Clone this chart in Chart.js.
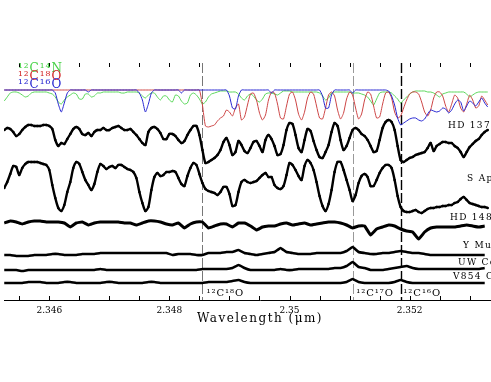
<!DOCTYPE html>
<html>
<head>
<meta charset="utf-8">
<script src="https://cdn.jsdelivr.net/npm/chart.js@4.4.1/dist/chart.umd.min.js"></script>
<style>
html, body { margin: 0; padding: 0; overflow: hidden; background: #fff; }
#wrap { width: 520px; height: 382px; }
</style>
</head>
<body>
<div id="wrap"><canvas id="spectra" width="520" height="382"></canvas></div>
<script>
// wavelength grid (micron)
const waveFine = [
  2.34525, 2.34530, 2.34535, 2.34540, 2.34545, 2.34550, 2.34555, 2.34560, 2.34565, 2.34570,
  2.34575, 2.34580, 2.34585, 2.34590, 2.34595, 2.34600, 2.34605, 2.34610, 2.34615, 2.34620,
  2.34625, 2.34630, 2.34635, 2.34640, 2.34645, 2.34650, 2.34655, 2.34660, 2.34665, 2.34670,
  2.34675, 2.34680, 2.34685, 2.34690, 2.34695, 2.34700, 2.34705, 2.34710, 2.34715, 2.34720,
  2.34725, 2.34730, 2.34735, 2.34740, 2.34745, 2.34750, 2.34755, 2.34760, 2.34765, 2.34770,
  2.34775, 2.34780, 2.34785, 2.34790, 2.34795, 2.34800, 2.34805, 2.34810, 2.34815, 2.34820,
  2.34825, 2.34830, 2.34835, 2.34840, 2.34845, 2.34850, 2.34855, 2.34860, 2.34865, 2.34870,
  2.34875, 2.34880, 2.34885, 2.34890, 2.34895, 2.34900, 2.34905, 2.34910, 2.34915, 2.34920,
  2.34925, 2.34930, 2.34935, 2.34940, 2.34945, 2.34950, 2.34955, 2.34960, 2.34965, 2.34970,
  2.34975, 2.34980, 2.34985, 2.34990, 2.34995, 2.35000, 2.35005, 2.35010, 2.35015, 2.35020,
  2.35025, 2.35030, 2.35035, 2.35040, 2.35045, 2.35050, 2.35055, 2.35060, 2.35065, 2.35070,
  2.35075, 2.35080, 2.35085, 2.35090, 2.35095, 2.35100, 2.35105, 2.35110, 2.35115, 2.35120,
  2.35125, 2.35130, 2.35135, 2.35140, 2.35145, 2.35150, 2.35155, 2.35160, 2.35165, 2.35170,
  2.35175, 2.35180, 2.35185, 2.35190, 2.35195, 2.35200, 2.35205, 2.35210, 2.35215, 2.35220,
  2.35225, 2.35230, 2.35235, 2.35240, 2.35245, 2.35250, 2.35255, 2.35260, 2.35265, 2.35270,
  2.35275, 2.35280, 2.35285, 2.35290, 2.35295, 2.35300, 2.35305, 2.35310, 2.35315, 2.35320,
  2.35325, 2.35330
];
const waveCoarse = waveFine.filter((w, i) => i % 2 === 0);

// synthetic spectra (normalised flux + offset)
const synCO16 = [
  2.10, 2.10, 2.10, 2.10, 2.10, 2.10, 2.10, 2.10, 2.10, 2.10,
  2.10, 2.10, 2.10, 2.10, 2.10, 2.10, 2.10, 2.07, 1.96, 1.88,
  1.97, 2.07, 2.10, 2.10, 2.10, 2.10, 2.10, 2.10, 2.08, 2.10,
  2.10, 2.10, 2.10, 2.10, 2.10, 2.10, 2.10, 2.10, 2.10, 2.10,
  2.10, 2.10, 2.10, 2.10, 2.10, 2.07, 2.00, 1.88, 1.96, 2.07,
  2.10, 2.10, 2.10, 2.10, 2.10, 2.10, 2.10, 2.10, 2.10, 2.07,
  2.10, 2.10, 2.10, 2.10, 2.10, 2.10, 2.10, 2.10, 2.10, 2.10,
  2.10, 2.10, 2.10, 2.10, 2.10, 2.04, 1.92, 1.91, 2.04, 2.10,
  2.10, 2.10, 2.10, 2.10, 2.10, 2.10, 2.10, 2.10, 2.10, 2.07,
  2.10, 2.10, 2.10, 2.10, 2.10, 2.10, 2.10, 2.10, 2.10, 2.10,
  2.10, 2.10, 2.10, 2.10, 2.10, 2.10, 2.04, 1.92, 1.92, 2.05,
  2.10, 2.10, 2.10, 2.10, 2.10, 2.10, 2.07, 2.10, 2.10, 2.10,
  2.10, 2.10, 2.10, 2.10, 2.10, 2.10, 2.10, 2.10, 2.09, 2.04,
  1.95, 1.82, 1.75, 1.77, 1.79, 1.81, 1.82, 1.82, 1.80, 1.79,
  1.81, 1.86, 1.90, 1.89, 1.88, 1.89, 1.92, 1.91, 1.87, 1.90,
  1.96, 2.00, 1.98, 1.89, 1.94, 1.99, 1.97, 1.94, 1.98, 2.02,
  1.97, 1.93
];
const synCO18 = [
  2.10, 2.10, 2.10, 2.10, 2.10, 2.10, 2.10, 2.10, 2.10, 2.10,
  2.10, 2.10, 2.10, 2.10, 2.10, 2.10, 2.10, 2.10, 2.10, 2.10,
  2.10, 2.10, 2.10, 2.10, 2.10, 2.10, 2.10, 2.10, 2.10, 2.10,
  2.10, 2.10, 2.10, 2.10, 2.10, 2.10, 2.10, 2.10, 2.10, 2.10,
  2.10, 2.10, 2.10, 2.10, 2.10, 2.10, 2.10, 2.10, 2.10, 2.10,
  2.10, 2.10, 2.10, 2.10, 2.10, 2.10, 2.10, 2.10, 2.10, 2.10,
  2.10, 2.10, 2.10, 2.10, 2.10, 2.10, 1.95, 1.74, 1.73, 1.74,
  1.75, 1.79, 1.82, 1.84, 1.90, 1.88, 1.84, 1.92, 1.96, 1.80,
  1.83, 1.95, 2.06, 2.07, 2.00, 1.87, 1.80, 1.85, 2.00, 2.08,
  2.07, 1.96, 1.82, 1.81, 1.94, 2.06, 2.08, 2.00, 1.86, 1.80,
  1.88, 2.02, 2.08, 2.06, 1.94, 1.82, 1.81, 1.92, 2.05, 2.08,
  2.04, 1.90, 1.81, 1.87, 2.01, 2.08, 2.05, 1.92, 1.81, 1.86,
  2.00, 2.08, 2.06, 1.94, 1.82, 1.83, 1.96, 2.07, 2.08, 2.02,
  1.88, 1.82, 1.84, 1.92, 2.00, 2.06, 2.08, 2.08, 2.06, 1.98,
  1.88, 1.84, 1.90, 2.02, 2.08, 2.08, 2.04, 1.94, 1.88, 1.96,
  2.05, 2.02, 1.92, 1.88, 1.96, 2.05, 2.00, 1.92, 1.94, 2.04,
  2.00, 1.95
];
const synCN = [
  1.99, 2.03, 2.07, 2.08, 2.08, 2.07, 2.05, 2.03, 2.04, 2.07,
  2.08, 2.08, 2.08, 2.08, 2.08, 2.07, 2.06, 2.03, 1.98, 1.96,
  2.00, 2.03, 2.05, 2.07, 2.06, 2.01, 2.01, 2.06, 2.06, 2.03,
  2.04, 2.07, 2.07, 2.08, 2.08, 2.08, 2.08, 2.08, 2.08, 2.07,
  2.07, 2.08, 2.08, 2.08, 2.08, 2.07, 2.04, 2.02, 2.05, 2.07,
  2.07, 2.03, 2.00, 2.04, 2.04, 2.00, 1.98, 2.05, 2.04, 1.99,
  1.96, 1.97, 2.05, 2.07, 2.05, 2.01, 1.96, 1.98, 2.03, 2.06,
  2.07, 2.08, 2.09, 2.09, 2.09, 2.08, 2.08, 2.08, 2.06, 2.02,
  2.00, 2.04, 2.06, 2.04, 2.00, 1.98, 2.01, 2.06, 2.07, 2.07,
  2.06, 2.05, 2.07, 2.09, 2.09, 2.09, 2.08, 2.08, 2.08, 2.08,
  2.08, 2.08, 2.08, 2.08, 2.08, 2.07, 2.04, 2.00, 2.02, 2.07,
  2.08, 2.08, 2.08, 2.08, 2.08, 2.08, 2.07, 2.07, 2.07, 2.06,
  2.05, 2.03, 1.99, 1.95, 2.01, 2.07, 2.08, 2.08, 2.08, 2.07,
  2.04, 2.01, 1.97, 2.00, 2.03, 2.06, 2.08, 2.09, 2.09, 2.09,
  2.09, 2.08, 2.08, 2.07, 2.05, 2.03, 2.06, 2.07, 2.08, 2.08,
  2.08, 2.08, 2.08, 2.08, 2.06, 2.03, 2.05, 2.07, 2.08, 2.08,
  2.08, 2.08
];

// observed spectra (normalised flux + offset)
const hd137613 = [
  1.70, 1.72, 1.71, 1.68, 1.64, 1.66, 1.70, 1.73, 1.75, 1.75,
  1.74, 1.74, 1.74, 1.75, 1.75, 1.74, 1.71, 1.60, 1.54, 1.57,
  1.56, 1.61, 1.66, 1.71, 1.73, 1.71, 1.66, 1.65, 1.67, 1.64,
  1.68, 1.70, 1.70, 1.72, 1.70, 1.70, 1.72, 1.73, 1.74, 1.72,
  1.70, 1.70, 1.71, 1.68, 1.65, 1.61, 1.57, 1.55, 1.68, 1.72,
  1.73, 1.71, 1.67, 1.61, 1.61, 1.66, 1.66, 1.64, 1.60, 1.57,
  1.59, 1.65, 1.70, 1.74, 1.74, 1.65, 1.50, 1.37, 1.38, 1.40,
  1.42, 1.45, 1.50, 1.58, 1.62, 1.55, 1.45, 1.48, 1.59, 1.55,
  1.49, 1.47, 1.52, 1.58, 1.59, 1.54, 1.48, 1.60, 1.65, 1.61,
  1.54, 1.45, 1.46, 1.55, 1.70, 1.77, 1.76, 1.65, 1.52, 1.48,
  1.60, 1.71, 1.69, 1.59, 1.50, 1.43, 1.42, 1.48, 1.55, 1.68,
  1.77, 1.74, 1.60, 1.50, 1.54, 1.62, 1.70, 1.72, 1.70, 1.66,
  1.64, 1.60, 1.54, 1.48, 1.49, 1.60, 1.72, 1.78, 1.80, 1.78,
  1.70, 1.54, 1.40, 1.38, 1.40, 1.42, 1.43, 1.45, 1.46, 1.47,
  1.48, 1.52, 1.57, 1.49, 1.54, 1.56, 1.58, 1.58, 1.57, 1.57,
  1.54, 1.52, 1.48, 1.43, 1.48, 1.53, 1.56, 1.59, 1.61, 1.65,
  1.68, 1.70
];
const sAps = [
  1.12, 1.18, 1.26, 1.34, 1.33, 1.25, 1.32, 1.36, 1.38, 1.38,
  1.38, 1.38, 1.37, 1.36, 1.35, 1.30, 1.15, 1.02, 0.92, 0.89,
  0.95, 1.08, 1.18, 1.32, 1.38, 1.36, 1.28, 1.20, 1.15, 1.10,
  1.16, 1.28, 1.36, 1.34, 1.31, 1.33, 1.34, 1.32, 1.35, 1.35,
  1.33, 1.31, 1.30, 1.28, 1.22, 1.08, 0.97, 0.89, 0.93, 1.10,
  1.23, 1.27, 1.24, 1.25, 1.28, 1.28, 1.29, 1.28, 1.22, 1.16,
  1.14, 1.24, 1.32, 1.37, 1.35, 1.26, 1.17, 1.11, 1.09, 1.08,
  1.07, 1.05, 1.08, 1.13, 1.13, 1.06, 0.94, 0.95, 1.08, 1.18,
  1.20, 1.18, 1.17, 1.18, 1.19, 1.22, 1.25, 1.27, 1.23, 1.23,
  1.15, 1.12, 1.11, 1.14, 1.25, 1.37, 1.35, 1.30, 1.24, 1.20,
  1.34, 1.40, 1.37, 1.30, 1.18, 1.04, 0.94, 0.89, 0.96, 1.10,
  1.28, 1.38, 1.38, 1.30, 1.20, 1.10, 0.99, 1.05, 1.17, 1.24,
  1.26, 1.23, 1.14, 1.14, 1.20, 1.27, 1.32, 1.35, 1.35, 1.32,
  1.20, 1.04, 0.93, 0.89, 0.88, 0.88, 0.89, 0.90, 0.88, 0.87,
  0.89, 0.91, 0.92, 0.92, 0.93, 0.93, 0.94, 0.94, 0.95, 0.95,
  0.97, 0.98, 1.01, 1.03, 1.00, 0.97, 0.96, 0.95, 0.94, 0.93,
  0.93, 0.92
];
const hd148839 = [
  0.77, 0.79, 0.78, 0.76, 0.78, 0.79, 0.79, 0.78, 0.78, 0.78,
  0.77, 0.73, 0.77, 0.78, 0.75, 0.77, 0.78, 0.78, 0.78, 0.78,
  0.77, 0.77, 0.75, 0.77, 0.79, 0.79, 0.78, 0.76, 0.75, 0.77,
  0.72, 0.76, 0.78, 0.78, 0.72, 0.74, 0.76, 0.76, 0.73, 0.77,
  0.77, 0.74, 0.70, 0.73, 0.74, 0.74, 0.76, 0.77, 0.75, 0.76,
  0.77, 0.75, 0.76, 0.77, 0.78, 0.78, 0.77, 0.75, 0.72, 0.74,
  0.74, 0.65, 0.71, 0.73, 0.75, 0.74, 0.71, 0.69, 0.68, 0.61,
  0.68, 0.72, 0.73, 0.73, 0.73, 0.73, 0.74, 0.75, 0.74, 0.73,
  0.74
];
const yMus = [
  0.45, 0.45, 0.44, 0.44, 0.44, 0.45, 0.45, 0.45, 0.46, 0.46,
  0.45, 0.45, 0.45, 0.46, 0.46, 0.46, 0.47, 0.47, 0.47, 0.47,
  0.47, 0.47, 0.47, 0.47, 0.47, 0.47, 0.47, 0.47, 0.45, 0.46,
  0.46, 0.46, 0.45, 0.45, 0.47, 0.47, 0.47, 0.48, 0.48, 0.50,
  0.47, 0.46, 0.45, 0.46, 0.47, 0.48, 0.52, 0.48, 0.47, 0.46,
  0.46, 0.46, 0.47, 0.47, 0.47, 0.47, 0.47, 0.49, 0.53, 0.48,
  0.47, 0.46, 0.46, 0.47, 0.47, 0.48, 0.49, 0.48, 0.47, 0.47,
  0.46, 0.45, 0.45, 0.45, 0.45, 0.45, 0.45, 0.45, 0.45, 0.45,
  0.45
];
const uwCen = [
  0.30, 0.30, 0.30, 0.29, 0.30, 0.30, 0.30, 0.30, 0.30, 0.30,
  0.30, 0.30, 0.30, 0.30, 0.30, 0.30, 0.31, 0.30, 0.30, 0.30,
  0.30, 0.30, 0.30, 0.30, 0.30, 0.30, 0.30, 0.30, 0.30, 0.30,
  0.30, 0.30, 0.30, 0.31, 0.31, 0.31, 0.31, 0.31, 0.32, 0.35,
  0.32, 0.30, 0.30, 0.30, 0.30, 0.30, 0.31, 0.30, 0.30, 0.31,
  0.31, 0.31, 0.31, 0.31, 0.31, 0.32, 0.32, 0.34, 0.38, 0.33,
  0.32, 0.30, 0.30, 0.30, 0.31, 0.32, 0.33, 0.34, 0.32, 0.31,
  0.31, 0.31, 0.31, 0.31, 0.31, 0.31, 0.31, 0.31, 0.31, 0.31,
  0.32
];
const v854Cen = [
  0.17, 0.17, 0.17, 0.17, 0.18, 0.18, 0.18, 0.17, 0.17, 0.17,
  0.18, 0.18, 0.17, 0.17, 0.17, 0.17, 0.17, 0.18, 0.18, 0.17,
  0.17, 0.17, 0.17, 0.17, 0.18, 0.18, 0.17, 0.17, 0.17, 0.17,
  0.17, 0.17, 0.17, 0.17, 0.18, 0.18, 0.18, 0.18, 0.19, 0.20,
  0.18, 0.17, 0.17, 0.17, 0.17, 0.17, 0.17, 0.17, 0.17, 0.17,
  0.17, 0.17, 0.17, 0.17, 0.17, 0.17, 0.17, 0.18, 0.21, 0.18,
  0.17, 0.17, 0.17, 0.17, 0.17, 0.18, 0.20, 0.18, 0.17, 0.17,
  0.17, 0.17, 0.17, 0.17, 0.17, 0.17, 0.17, 0.17, 0.17, 0.17,
  0.17
];

// axis ticks and labels
const majorTicks = [2.346, 2.348, 2.35, 2.352];
const tickLabels = ['2.346', '2.348', '2.35', '2.352'];
const bandheadWaves = [2.34855, 2.35106, 2.35186];
const bandheadLabels = ['\u00B9\u00B2C\u00B9\u2078O', '\u00B9\u00B2C\u00B9\u2077O', '\u00B9\u00B2C\u00B9\u2076O'];
const starNames = ['HD 137613', 'S Aps', 'HD 148839', 'Y Mus', 'UW Cen', 'V854 Cen'];
const synNames = ['\u00B9\u00B2C\u00B9\u2074N', '\u00B9\u00B2C\u00B9\u2078O', '\u00B9\u00B2C\u00B9\u2076O'];

const pair = (xs, ys) => ys.map((y, i) => ({ x: xs[i], y: y }));

function thin(label, xs, ys, color) {
  return { label, data: pair(xs, ys), borderColor: color, borderWidth: 1, pointRadius: 0, tension: 0.2 };
}
function thick(label, xs, ys, width, dots, tension) {
  return {
    label, data: pair(xs, ys), borderColor: '#000', borderWidth: width,
    pointRadius: dots ? 1.3 : 0, pointBackgroundColor: '#000', pointBorderWidth: 0,
    tension: tension
  };
}

const decor = {
  id: 'decor',
  beforeDatasetsDraw(chart) {
    const { ctx, chartArea: a, scales: { x } } = chart;
    const colors = ['#777', '#999', '#000'];
    const widths = [1, 1, 1.4];
    ctx.save();
    bandheadWaves.forEach((w, k) => {
      const px = Math.round(x.getPixelForValue(w)) + 0.5;
      ctx.strokeStyle = colors[k];
      ctx.lineWidth = widths[k];
      ctx.setLineDash([10, 3]);
      ctx.beginPath();
      ctx.moveTo(px, a.top);
      ctx.lineTo(px, a.bottom);
      ctx.stroke();
    });
    ctx.restore();
  },
  afterDraw(chart) {
    const { ctx, chartArea: a, scales: { x } } = chart;
    ctx.save();
    // inward minor ticks, top and bottom
    ctx.strokeStyle = '#000';
    ctx.lineWidth = 1;
    for (let k = 0; k < 20; k++) {
      const px = Math.round(x.getPixelForValue(2.3455 + k * 0.0005)) + 0.5;
      ctx.beginPath();
      ctx.moveTo(px, a.top); ctx.lineTo(px, a.top + 4);
      ctx.moveTo(px, a.bottom); ctx.lineTo(px, a.bottom - 4);
      ctx.stroke();
    }
    ctx.fillStyle = '#000';
    ctx.textBaseline = 'middle';
    ctx.textAlign = 'left';
    // bandhead labels
    ctx.font = '10px "DejaVu Serif"';
    ctx.letterSpacing = '1px';
    const offs = [4, 3, 2];
    bandheadWaves.forEach((w, k) => {
      ctx.fillText(bandheadLabels[k], x.getPixelForValue(w) + offs[k], a.bottom - 7);
    });
    // star names at right
    ctx.font = '9px "DejaVu Serif"';
    ctx.letterSpacing = '1.3px';
    const starPos = [[448, 126], [467, 179], [450, 218], [463, 246], [458, 263], [453, 277]];
    starNames.forEach((n, k) => ctx.fillText(n, starPos[k][0], starPos[k][1]));
    // synthetic labels at top-left
    ctx.font = '12px "DejaVu Serif"';
    ctx.letterSpacing = '1px';
    const synColors = ['rgb(70,210,70)', 'rgb(210,40,40)', 'rgb(40,40,210)'];
    synNames.forEach((n, k) => {
      ctx.fillStyle = synColors[k];
      ctx.fillText(n, a.left + 14, a.top + 6 + k * 7.8);
    });
    // axis title
    ctx.fillStyle = '#000';
    ctx.textAlign = 'center';
    ctx.font = '12px "DejaVu Serif"';
    ctx.letterSpacing = '1.5px';
    ctx.fillText('Wavelength (\u03BCm)', (x.left + x.right) / 2, a.bottom + 19);
    ctx.restore();
  }
};

new Chart(document.getElementById('spectra'), {
  type: 'line',
  data: {
    datasets: [
      thin('12C16O', waveFine, synCO16, 'rgb(40,40,210)'),
      thin('12C18O', waveFine, synCO18, 'rgb(205,70,70)'),
      thin('12C14N', waveFine, synCN, 'rgb(90,215,90)'),
      thick(starNames[0], waveFine, hd137613, 2.4, true, 0.25),
      thick(starNames[1], waveFine, sAps, 2.4, true, 0.25),
      thick(starNames[2], waveCoarse, hd148839, 3, false, 0.1),
      thick(starNames[3], waveCoarse, yMus, 2.6, false, 0.1),
      thick(starNames[4], waveCoarse, uwCen, 2.6, false, 0.1),
      thick(starNames[5], waveCoarse, v854Cen, 2.6, false, 0.1)
    ]
  },
  options: {
    responsive: false,
    animation: false,
    events: [],
    layout: { padding: { top: 63, left: 0, right: 0, bottom: 0 } },
    plugins: { legend: { display: false }, tooltip: { enabled: false } },
    scales: {
      x: {
        type: 'linear',
        min: 2.345246,
        max: 2.353771,
        afterBuildTicks: (scale) => { scale.ticks = majorTicks.map(v => ({ value: v })); },
        afterFit: (scale) => { scale.height = 82; },
        grid: { display: false, drawTicks: false },
        border: { display: true, color: '#000', width: 1 },
        ticks: {
          autoSkip: false,
          maxRotation: 0,
          padding: 5,
          color: '#000',
          font: { family: 'DejaVu Serif', size: 9 },
          callback: (v) => tickLabels[majorTicks.indexOf(v)]
        }
      },
      y: { display: false, min: 0, max: 2.37 }
    }
  },
  plugins: [decor]
});
</script>
</body>
</html>
